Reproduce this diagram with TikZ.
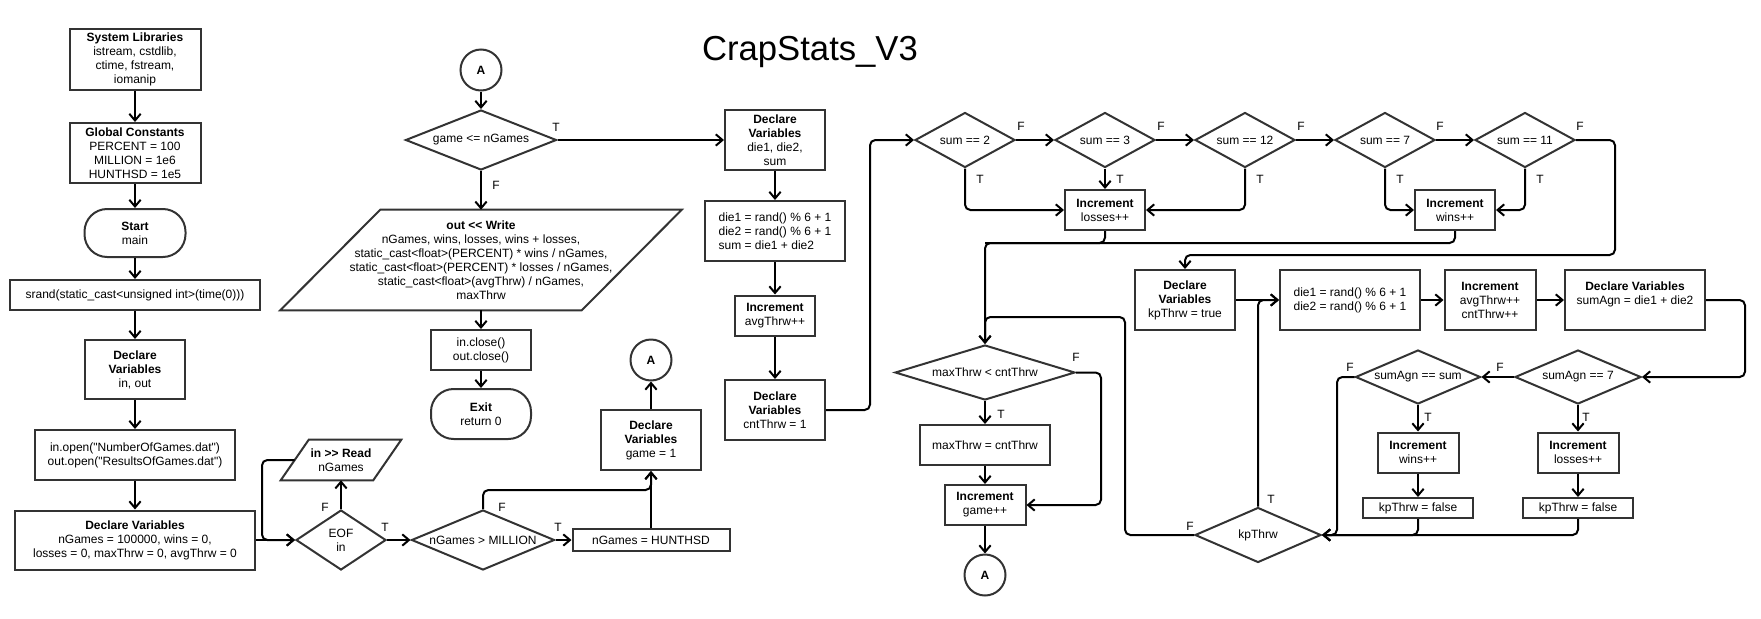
\documentclass[tikz,border=0pt]{standalone}
\usepackage{fontspec}
\setmainfont{Liberation Sans}[Ligatures=TeXOff]
\usetikzlibrary{shapes.geometric,arrows.meta,calc}
\definecolor{boxc}{HTML}{333333}
\tikzset{
  every node/.style={font=\fontsize{9}{10.5}\selectfont, text=black},
  wh/.style 2 args={minimum width=#1*0.75pt, minimum height=#2*0.75pt},
  box/.style={draw=boxc, line width=1.5pt, rectangle, align=center, inner sep=1pt},
  term/.style={box, rounded corners=17pt},
  dia/.style={draw=boxc, line width=1.5pt, diamond, aspect=3, inner sep=0pt, align=center},
  pgn/.style={rectangle, draw=none, align=center, inner sep=1pt},
  pgnb/.style={draw=boxc, line width=1.5pt, line join=miter},
  circ/.style={draw=boxc, line width=1.5pt, circle, minimum size=30.75pt, inner sep=0pt, font=\fontsize{9}{10.5}\selectfont\bfseries},
  conn/.style={draw=black, line width=1.5pt, rounded corners=4pt, -{Straight Barb[length=5pt,width=8.5pt]}},
  plain/.style={draw=black, line width=1.5pt, rounded corners=4pt},
  lbl/.style={inner sep=0pt}
}
\begin{document}
\begin{tikzpicture}[x=0.75pt,y=-0.75pt]
\useasboundingbox (0,0) rectangle (1761,618);
\node[font=\fontsize{26}{30}\selectfont] (title) at (810,52) {CrapStats\_V3};

% ---------- left column ----------
\node[box, wh={131}{61}] (libs) at (135,59.5) {\textbf{System Libraries}\\istream, cstdlib,\\ctime, fstream,\\iomanip};
\node[box, wh={131}{60}] (consts) at (135,153) {\textbf{Global Constants}\\PERCENT = 100\\MILLION = 1e6\\HUNTHSD = 1e5};
\node[term, wh={101}{48}] (start) at (135,233) {\textbf{Start}\\main};
\node[box, wh={250}{30}] (srand) at (135,295) {srand(static\_cast<unsigned int>(time(0)))};
\node[box, wh={100}{59}] (declio) at (135,369.5) {\textbf{Declare}\\\textbf{Variables}\\in, out};
\node[box, wh={200}{50}] (open) at (135,455) {in.open("NumberOfGames.dat")\\out.open("ResultsOfGames.dat")};
\node[box, wh={240}{59}] (declng) at (135,540) {\textbf{Declare Variables}\\nGames = 100000, wins = 0,\\losses = 0, maxThrw = 0, avgThrw = 0};

\node[dia, aspect=1.5, wh={90}{60}] (eof) at (341,540) {EOF\\in};
\node[pgn, wh={92}{40}] (read) at (341,460) {\textbf{in >> Read}\\nGames};
\draw[pgnb] ($(read.north west)+(14,0)$) -- ($(read.north east)+(14,0)$) -- ($(read.south east)+(-14,0)$) -- ($(read.south west)+(-14,0)$) -- cycle;
\node[dia, wh={143}{60}] (mil) at (483,540) {\makebox[0pt]{nGames > MILLION}};
\node[box, wh={157}{22}] (hunt) at (651,540) {nGames = HUNTHSD};
\node[box, wh={100}{60}] (gamedecl) at (651,440) {\textbf{Declare}\\\textbf{Variables}\\game = 1};
\node[circ] (A2) at (651,360) {A};

% ---------- middle column ----------
\node[circ] (A1) at (481,70) {A};
\node[dia, wh={151}{60}] (game) at (481,140) {\makebox[0pt]{game <= nGames}};
\node[pgn, wh={301}{100}] (write) at (481,260) {\textbf{out << Write}\\nGames, wins, losses, wins + losses,\\static\_cast<float>(PERCENT) * wins / nGames,\\static\_cast<float>(PERCENT) * losses / nGames,\\static\_cast<float>(avgThrw) / nGames,\\maxThrw};
\draw[pgnb] ($(write.north west)+(50,0)$) -- ($(write.north east)+(50,0)$) -- ($(write.south east)+(-50,0)$) -- ($(write.south west)+(-50,0)$) -- cycle;
\node[box, wh={100}{40}] (close) at (481,350) {in.close()\\out.close()};
\node[term, wh={100}{50}] (exit) at (481,414) {\textbf{Exit}\\return 0};

\node[box, wh={100}{60}] (decl3) at (775,140) {\textbf{Declare}\\\textbf{Variables}\\die1, die2,\\sum};
\node[box, wh={140}{60}, align=left] (rand1) at (775,231) {die1 = rand() \% 6 + 1\\die2 = rand() \% 6 + 1\\sum = die1 + die2};
\node[box, wh={80}{40}] (inc1) at (775,315.5) {\textbf{Increment}\\avgThrw++};
\node[box, wh={100}{60}] (cnt) at (775,410) {\textbf{Declare}\\\textbf{Variables}\\cntThrw = 1};

% ---------- top row of tests ----------
\node[dia, wh={100}{55}] (s2) at (965,140) {\makebox[0pt]{sum == 2}};
\node[dia, wh={100}{55}] (s3) at (1105,140) {\makebox[0pt]{sum == 3}};
\node[dia, wh={100}{55}] (s12) at (1245,140) {\makebox[0pt]{sum == 12}};
\node[dia, wh={100}{55}] (s7) at (1385,140) {\makebox[0pt]{sum == 7}};
\node[dia, wh={100}{55}] (s11) at (1525,140) {\makebox[0pt]{sum == 11}};
\node[box, wh={80}{40}] (loss) at (1105,210) {\textbf{Increment}\\losses++};
\node[box, wh={80}{40}] (wins) at (1455,210) {\textbf{Increment}\\wins++};

% ---------- max throws ----------
\node[dia, wh={180}{55}] (maxd) at (985,372.5) {\makebox[0pt]{maxThrw < cntThrw}};
\node[box, wh={130}{40}] (mset) at (985,445) {maxThrw = cntThrw};
\node[box, wh={81}{40}] (ginc) at (985,505) {\textbf{Increment}\\game++};
\node[circ] (A3) at (985,575) {A};

% ---------- point loop ----------
\node[box, wh={100}{60}] (kpdecl) at (1185,300) {\textbf{Declare}\\\textbf{Variables}\\kpThrw = true};
\node[box, wh={140}{60}, align=left] (rand2) at (1350,300) {die1 = rand() \% 6 + 1\\die2 = rand() \% 6 + 1};
\node[box, wh={91}{60}] (inc2) at (1490,300) {\textbf{Increment}\\avgThrw++\\cntThrw++};
\node[box, wh={140}{60}] (sagn) at (1635,300) {\textbf{Declare Variables}\\sumAgn = die1 + die2\\\mbox{}};
\node[dia, wh={126}{54}] (a7) at (1578,377) {\makebox[0pt]{sumAgn == 7}};
\node[dia, wh={125}{54}] (asum) at (1418,377) {\makebox[0pt]{sumAgn == sum}};
\node[box, wh={81}{40}] (winc2) at (1418,452.5) {\textbf{Increment}\\wins++};
\node[box, wh={81}{40}] (linc2) at (1578,452.5) {\textbf{Increment}\\losses++};
\node[box, wh={110}{20}] (kf1) at (1418,508) {kpThrw = false};
\node[box, wh={110}{20}] (kf2) at (1578,508) {kpThrw = false};
\node[dia, wh={126}{55}] (kp) at (1258,535) {\makebox[0pt]{kpThrw}};

% ---------- bend coordinates ----------
\coordinate (c1) at (262,460);
\coordinate (c2) at (870,140);
\coordinate (c3) at (1615,255);
\coordinate (c4) at (985,243);
\coordinate (c5) at (1125,317);
\coordinate (c6) at (1101,505);
\coordinate (c7) at (1745,377);
\coordinate (c8) at (1337,535);
\coordinate (c9) at (483,490);

% ---------- connectors ----------
\draw[conn] (libs) -- (consts);
\draw[conn] (consts) -- (start);
\draw[conn] (start) -- (srand);
\draw[conn] (srand) -- (declio);
\draw[conn] (declio) -- (open);
\draw[conn] (open) -- (declng);
\draw[conn] (declng.east) -- (eof.west);
\draw[conn] (eof.north) -- (read.south);
\draw[conn] (read.west) -- (c1) |- (eof.west);
\draw[conn] (eof.east) -- (mil.west);
\draw[conn] (mil.east) -- (hunt.west);
\draw[conn] (hunt.north) -- (gamedecl.south);
\draw[conn] (mil.north) -- (c9) -| (gamedecl.south);
\draw[conn] (gamedecl.north) -- (A2.south);

\draw[conn] (A1.south) -- (game.north);
\draw[conn] (game.south) -- (write.north);
\draw[conn] (write.south) -- (close.north);
\draw[conn] (close.south) -- (exit.north);
\draw[conn] (game.east) -- (decl3.west);
\draw[conn] (decl3) -- (rand1);
\draw[conn] (rand1) -- (inc1);
\draw[conn] (inc1) -- (cnt);
\draw[conn] (cnt.east) -| (c2) -- (s2.west);

\draw[conn] (s2.east) -- (s3.west);
\draw[conn] (s3.east) -- (s12.west);
\draw[conn] (s12.east) -- (s7.west);
\draw[conn] (s7.east) -- (s11.west);
\draw[conn] (s2.south) |- (loss.west);
\draw[conn] (s3.south) -- (loss.north);
\draw[conn] (s12.south) |- (loss.east);
\draw[conn] (s7.south) |- (wins.west);
\draw[conn] (s11.south) |- (wins.east);
\draw[conn] (s11.east) -| (c3) -| (kpdecl.north);

\draw[plain] (loss.south) |- (c4);
\draw[conn] (wins.south) |- (c4) -- (maxd.north);
\draw[conn] (kp.west) -| (c5) -| (maxd.north);
\draw[conn] (maxd.south) -- (mset.north);
\draw[conn] (mset.south) -- (ginc.north);
\draw[conn] (ginc.south) -- (A3.north);
\draw[conn] (maxd.east) -| (c6) -- (ginc.east);

\draw[conn] (kpdecl.east) -- (rand2.west);
\draw[conn] (kp.north) |- (rand2.west);
\draw[conn] (rand2.east) -- (inc2.west);
\draw[conn] (inc2.east) -- (sagn.west);
\draw[conn] (sagn.east) -| (c7) -- (a7.east);
\draw[conn] (a7.west) -- (asum.east);
\draw[conn] (asum.west) -| (c8) -- (kp.east);
\draw[conn] (asum.south) -- (winc2.north);
\draw[conn] (winc2.south) -- (kf1.north);
\draw[conn] (a7.south) -- (linc2.north);
\draw[conn] (linc2.south) -- (kf2.north);
\draw[conn] (kf1.south) |- (kp.east);
\draw[conn] (kf2.south) |- (kp.east);

% ---------- T / F labels ----------
\node[lbl] (lf1) at (325,507) {F};
\node[lbl] (lt1) at (385,527) {T};
\node[lbl] (lf2) at (502,507) {F};
\node[lbl] (lt2) at (558,527) {T};
\node[lbl] (lt3) at (556,127) {T};
\node[lbl] (lf3) at (496,185) {F};
\node[lbl] (lf4) at (1021,126) {F};
\node[lbl] (lt4) at (980,179) {T};
\node[lbl] (lf5) at (1161,126) {F};
\node[lbl] (lt5) at (1120,179) {T};
\node[lbl] (lf6) at (1301,126) {F};
\node[lbl] (lt6) at (1260,179) {T};
\node[lbl] (lf7) at (1440,126) {F};
\node[lbl] (lt7) at (1400,179) {T};
\node[lbl] (lf8) at (1580,126) {F};
\node[lbl] (lt8) at (1540,179) {T};
\node[lbl] (lf9) at (1076,357) {F};
\node[lbl] (lt9) at (1001,414) {T};
\node[lbl] (lt10) at (1271,499) {T};
\node[lbl] (lf10) at (1190,526) {F};
\node[lbl] (lf11) at (1500,367) {F};
\node[lbl] (lt11) at (1586,417) {T};
\node[lbl] (lf12) at (1350,367) {F};
\node[lbl] (lt12) at (1428,417) {T};
\end{tikzpicture}
\end{document}
